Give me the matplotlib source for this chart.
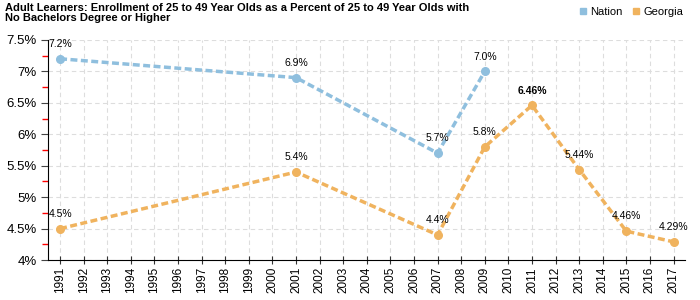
import numpy as np
import matplotlib.pyplot as plt
from matplotlib.ticker import MultipleLocator, FuncFormatter
from matplotlib.lines import Line2D

plt.rcParams['font.family'] = ['Liberation Sans', 'DejaVu Sans']

nation_years = [1991, 2001, 2007, 2009]
nation_vals = [7.2, 6.9, 5.7, 7.0]
nation_labels = ["7.2%", "6.9%", "5.7%", "7.0%"]

georgia_years = [1991, 2001, 2007, 2009, 2011, 2013, 2015, 2017]
georgia_vals = [4.5, 5.4, 4.4, 5.8, 6.46, 5.44, 4.46, 4.29]
georgia_labels = ["4.5%", "5.4%", "4.4%", "5.8%", "6.46%", "5.44%", "4.46%", "4.29%"]

years = list(range(1991, 2018))

c_nation = "#8fbfde"
c_georgia = "#f0b35e"

fig = plt.figure(figsize=(7, 3), dpi=100)
ax = fig.add_axes([0.069, 0.133, 0.910, 0.734])

ax.plot(nation_years, nation_vals, "--", color=c_nation, lw=2.5, dashes=(2, 1))
ax.plot(nation_years, nation_vals, "o", color=c_nation, ms=5.5)
ax.plot(georgia_years, georgia_vals, "--", color=c_georgia, lw=2.5, dashes=(2, 1))
ax.plot(georgia_years, georgia_vals, "o", color=c_georgia, ms=5.5)

for x, y, t in zip(nation_years, nation_vals, nation_labels):
    ax.annotate(t, (x, y), xytext=(0, 7), textcoords="offset points",
                ha="center", va="bottom", fontsize=7.5, color="black")
for x, y, t in zip(georgia_years, georgia_vals, georgia_labels):
    ax.annotate(t, (x, y), xytext=(0, 7), textcoords="offset points",
                ha="center", va="bottom", fontsize=7.5, color="black",
                fontweight="bold" if t == "6.46%" else "normal")

ax.set_xlim(1990.5, 2017.5)
ax.set_ylim(4, 7.5)
ax.set_xticks(years)
ax.set_xticklabels([str(y) for y in years], rotation=90, fontsize=8.5)
ax.yaxis.set_major_locator(MultipleLocator(0.5))
ax.yaxis.set_minor_locator(MultipleLocator(0.25))
ax.yaxis.set_major_formatter(FuncFormatter(lambda v, p: f"{v:g}%"))
ax.tick_params(axis="y", which="major", labelsize=9.5, length=5, color="#444444")
ax.tick_params(axis="y", which="minor", length=4, width=1, color="red")
ax.tick_params(axis="x", direction="inout", length=6, color="#333333", pad=2)

ax.grid(True, which="major", linestyle=(0, (4, 3)), color="#dddddd", lw=0.8)
ax.set_axisbelow(True)
for s in ["top", "right"]:
    ax.spines[s].set_visible(False)

fig.text(0.007, 0.99, "Adult Learners: Enrollment of 25 to 49 Year Olds as a Percent of 25 to 49 Year Olds with\nNo Bachelors Degree or Higher",
         ha="left", va="top", fontsize=8, fontweight="bold", linespacing=0.95)

handles = [Line2D([], [], marker="s", ls="", color=c_nation, ms=5, label="Nation"),
           Line2D([], [], marker="s", ls="", color=c_georgia, ms=5, label="Georgia")]
fig.legend(handles=handles, loc="upper right", bbox_to_anchor=(0.99, 1.01), ncol=2,
           frameon=False, fontsize=8, handletextpad=0.1, columnspacing=0.8, handlelength=1)

fig.savefig("out.png", dpi=100)
